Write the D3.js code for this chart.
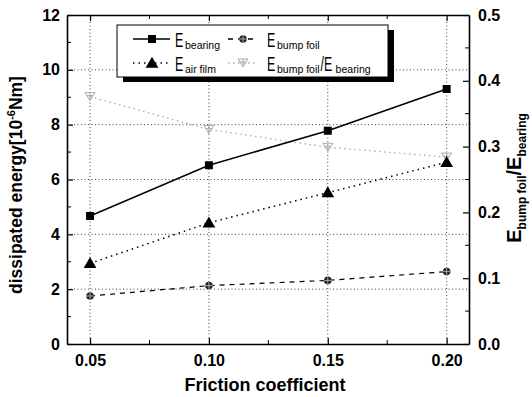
<!DOCTYPE html>
<html>
<head>
<meta charset="utf-8">
<script src="https://cdn.jsdelivr.net/npm/d3@7"></script>
<style>
  body { margin: 0; background: #fff; }
  text { font-family: "Liberation Sans", Arial, sans-serif; }
  .tick text { font-weight: bold; font-size: 16px; }
</style>
</head>
<body>
<div class="chart"></div>
<script>
// friction coefficient values
let friction = [0.05, 0.10, 0.15, 0.20];
let xTicks = [0.05, 0.10, 0.15, 0.20];
let eBearing = [4.67, 6.52, 7.78, 9.30];
let eAirFilm = [2.94, 4.42, 5.52, 6.63];
let eBumpFoil = [1.75, 2.13, 2.32, 2.64];
let ratio = [0.376, 0.326, 0.299, 0.284];
let yTicks = [0, 2, 4, 6, 8, 10, 12];
let y2Ticks = [0.0, 0.1, 0.2, 0.3, 0.4, 0.5];

let W = 532, H = 397;
let margin = {top: 15, left: 67, right: 63, bottom: 53};
let width = W - margin.left - margin.right;
let height = H - margin.top - margin.bottom;

let svg = d3.select(".chart").append("svg")
            .attr("width", W)
            .attr("height", H);
let g = svg.append("g")
           .attr("transform", "translate(" + margin.left + "," + margin.top + ")");

let x = d3.scaleLinear().domain([0.0403, 0.2094]).range([0, width]);
let y = d3.scaleLinear().domain([0, 12]).range([height, 0]);
let y2 = d3.scaleLinear().domain([0, 0.5]).range([height, 0]);

// dotted grid
g.append("g").selectAll("line").data(xTicks).enter().append("line")
 .attr("x1", d => x(d)).attr("x2", d => x(d))
 .attr("y1", 0).attr("y2", height)
 .attr("stroke", "#444").attr("stroke-width", 1).attr("stroke-dasharray", "1 2.5");
g.append("g").selectAll("line").data(yTicks.slice(1, -1)).enter().append("line")
 .attr("y1", d => y(d)).attr("y2", d => y(d))
 .attr("x1", 0).attr("x2", width)
 .attr("stroke", "#444").attr("stroke-width", 1).attr("stroke-dasharray", "1 2.5");

// axes (ticks inward)
let xAxis = g.append("g").attr("transform", "translate(0," + height + ")")
             .call(d3.axisBottom(x).tickValues(xTicks).tickFormat(d3.format(".2f")).tickSizeInner(-6).tickSizeOuter(0).tickPadding(11));
xAxis.append("g").selectAll("line").data([0.075, 0.125, 0.175]).enter().append("line")
     .attr("x1", d => x(d)).attr("x2", d => x(d)).attr("y1", 0).attr("y2", -4).attr("stroke", "#000");
let xTop = g.append("g")
            .call(d3.axisTop(x).tickValues(xTicks).tickFormat("").tickSizeInner(-6).tickSizeOuter(0));
xTop.append("g").selectAll("line").data([0.075, 0.125, 0.175]).enter().append("line")
    .attr("x1", d => x(d)).attr("x2", d => x(d)).attr("y1", 0).attr("y2", 4).attr("stroke", "#000");

let yAxis = g.append("g")
             .call(d3.axisLeft(y).tickValues(yTicks).tickSizeInner(-6).tickSizeOuter(0).tickPadding(7));
yAxis.append("g").selectAll("line").data([1, 3, 5, 7, 9, 11]).enter().append("line")
     .attr("y1", d => y(d)).attr("y2", d => y(d)).attr("x1", 0).attr("x2", 4).attr("stroke", "#000");

let y2Axis = g.append("g").attr("transform", "translate(" + width + ",0)")
              .call(d3.axisRight(y2).tickValues(y2Ticks).tickFormat(d3.format(".1f")).tickSizeInner(-6).tickSizeOuter(0).tickPadding(9));
y2Axis.append("g").selectAll("line").data([0.05, 0.15, 0.25, 0.35, 0.45]).enter().append("line")
      .attr("y1", d => y2(d)).attr("y2", d => y2(d)).attr("x1", 0).attr("x2", -4).attr("stroke", "#000");

g.selectAll(".domain").attr("stroke", "#000").attr("stroke-width", 1.6);
g.selectAll(".tick line").attr("stroke-width", 1.2);

// series
let line = d3.line().x(d => x(d[0])).y(d => d[1]);
function series(vals, scale, stroke, dash, w) {
    let pts = friction.map((f, i) => [f, scale(vals[i])]);
    g.append("path").datum(pts).attr("d", line)
     .attr("fill", "none").attr("stroke", stroke).attr("stroke-width", w)
     .attr("stroke-dasharray", dash);
    return pts;
}
let sym = {
    square: d3.symbol().type(d3.symbolSquare).size(64),
    circle: d3.symbol().type(d3.symbolCircle).size(45),
    triUp: d3.symbol().type(d3.symbolTriangle).size(70)
};
function markers(pts, kind, color) {
    let m = g.append("g").selectAll("g").data(pts).enter().append("g")
             .attr("transform", d => "translate(" + x(d[0]) + "," + d[1] + ")");
    drawMarker(m, kind, color);
}
function drawMarker(m, kind, color) {
    if (kind === "square") m.append("path").attr("d", sym.square()).attr("fill", color);
    if (kind === "triUp") m.append("path").attr("d", sym.triUp()).attr("fill", color).attr("transform", "translate(0,1)");
    if (kind === "circle") {
        m.append("path").attr("d", sym.circle()).attr("fill", "#222");
        m.append("path").attr("d", "M-4,0H4M0,-4V4").attr("stroke", "#aaa").attr("stroke-width", 1);
    }
    if (kind === "triDown") {
        m.append("path").attr("d", "M-5,-4L5,-4L0,4Z").attr("fill", "none").attr("stroke", color).attr("stroke-width", 1);
        m.append("path").attr("d", "M-3,-1H3M0,-4V3").attr("stroke", color).attr("stroke-width", 1);
    }
}

let pRatio = series(ratio, y2, "#aaa", "1.5 3.5", 1.3);
markers(pRatio, "triDown", "#aaa");
let pBump = series(eBumpFoil, y, "#000", "5 5", 1.2);
markers(pBump, "circle", "#000");
let pAir = series(eAirFilm, y, "#000", "1.5 4", 1.5);
markers(pAir, "triUp", "#000");
let pBear = series(eBearing, y, "#000", null, 1.5);
markers(pBear, "square", "#000");

// legend
let lg = svg.append("g");
lg.append("rect").attr("x", 123).attr("y", 30).attr("width", 271).attr("height", 52).attr("fill", "#000");
lg.append("rect").attr("x", 117).attr("y", 25).attr("width", 271).attr("height", 52)
  .attr("fill", "#fff").attr("stroke", "#000").attr("stroke-width", 1);
let legendItems = [
    {x: 133, y: 39, kind: "square", color: "#000", dash: null, sub: "bearing"},
    {x: 228, y: 39, kind: "circle", color: "#000", dash: "5 5", sub: "bump foil"},
    {x: 133, y: 63, kind: "triUp", color: "#000", dash: "1.5 4", sub: "air film"},
    {x: 228, y: 63, kind: "triDown", color: "#aaa", dash: "1.5 3.5", sub: "bump foil", ratio: true}
];
// thin, tall "E" like the original legend
function bigE(px, py, s) {
    lg.append("text").attr("transform", "translate(" + px + "," + py + ")scale(0.62,1)")
      .attr("font-size", 20).text(s);
}
legendItems.forEach(it => {
    let left = it.x < 200;
    let len = left ? 37 : 30;
    lg.append("line").attr("x1", it.x).attr("x2", it.x + len).attr("y1", it.y).attr("y2", it.y)
      .attr("stroke", it.color).attr("stroke-width", 1.5).attr("stroke-dasharray", it.dash);
    let m = lg.append("g").attr("transform", "translate(" + (it.x + (left ? 19 : 15)) + "," + it.y + ")");
    drawMarker(m, it.kind, it.color);
    let tx = left ? 175 : 267;
    let by = it.y + 8;
    bigE(tx, by, "E");
    let sub = lg.append("text").attr("x", tx + 10).attr("y", by + 2).attr("font-size", 10.5).text(it.sub);
    if (it.ratio) {
        let sw = sub.node().getComputedTextLength();
        bigE(tx + 11 + sw, by, "/E");
        lg.append("text").attr("x", tx + 11 + sw + 15).attr("y", by + 2).attr("font-size", 10.5).text("bearing");
    }
});

// axis titles
svg.append("text").attr("x", 265).attr("y", 391)
   .attr("text-anchor", "middle").attr("font-weight", "bold").attr("font-size", 18)
   .text("Friction coefficient");
let yt = svg.append("text").attr("transform", "translate(22,185)rotate(-90)")
   .attr("text-anchor", "middle").attr("font-weight", "bold").attr("font-size", 17.5);
yt.append("tspan").text("dissipated energy[10");
yt.append("tspan").attr("font-size", 11).attr("dy", -7).text("-6");
yt.append("tspan").attr("dy", 7).text("Nm]");
let y2t = svg.append("text").attr("transform", "translate(521,178)rotate(-90)")
   .attr("text-anchor", "middle").attr("font-weight", "bold").attr("font-size", 20);
y2t.append("tspan").text("E");
y2t.append("tspan").attr("font-size", 12).attr("dy", 5).text("bump foil");
y2t.append("tspan").attr("dy", -5).text("/E");
y2t.append("tspan").attr("font-size", 12).attr("dy", 5).text("bearing");
</script>
</body>
</html>
